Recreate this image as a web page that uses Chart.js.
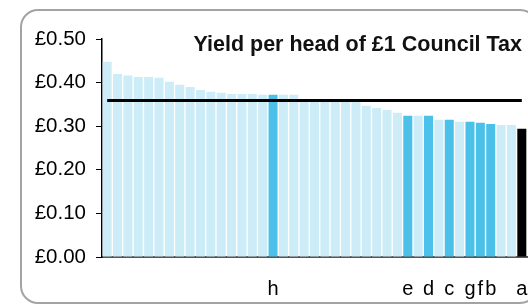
<!DOCTYPE html>
<html>
<head>
<meta charset="utf-8">
<script src="https://cdn.jsdelivr.net/npm/chart.js@4/dist/chart.umd.min.js"></script>
<style>
  html, body { margin: 0; padding: 0; background: #fff; }
  #wrap { position: relative; width: 528px; height: 305px; overflow: hidden; }
  #frame { position: absolute; left: 20px; top: 9px; width: 518px; height: 295px;
           border: 2px solid #a3a3a3; border-radius: 18px; box-sizing: border-box; }
  #title { position: absolute; right: 6px; top: 32px; font: bold 21.5px "Liberation Sans", Arial, sans-serif;
           color: #111; white-space: nowrap; }
  canvas { position: absolute; left: 0; top: 0; }
</style>
</head>
<body>
<div id="wrap">
  <div id="frame"></div>
  <canvas id="c" width="528" height="305"></canvas>
  <div id="title">Yield per head of £1 Council Tax</div>
</div>
<script>
// Category labels (only the highlighted councils are labelled)
const categories = ['', '', '', '', '', '', '', '', '', '', '', '', '', '', '', '', 'h', '', '', '', '',
  '', '', '', '', '', '', '', '', 'e', '', 'd', '', 'c', '', 'g', 'f', 'b', '', '', 'a'];
// Yield per head (£) for each council
const yieldValues = [0.448, 0.420, 0.416, 0.413, 0.413, 0.411, 0.402, 0.395, 0.390, 0.383,
  0.379, 0.377, 0.374, 0.374, 0.374, 0.372, 0.372, 0.372, 0.372, 0.361,
  0.360, 0.360, 0.359, 0.359, 0.358, 0.347, 0.342, 0.337, 0.331, 0.324,
  0.324, 0.324, 0.315, 0.315, 0.310, 0.310, 0.308, 0.305, 0.303, 0.303, 0.294];
// Bar highlight group: 0 = other, 1 = highlighted, 2 = selected
const highlight = [0, 0, 0, 0, 0, 0, 0, 0, 0, 0, 0, 0, 0, 0, 0, 0, 1, 0, 0, 0, 0,
  0, 0, 0, 0, 0, 0, 0, 0, 1, 0, 1, 0, 1, 0, 1, 1, 1, 0, 0, 2];
// Average yield
const averageYield = 0.359;
const yTicks = [0, 0.1, 0.2, 0.3, 0.4, 0.5];

const groupColors = ['#ccecf8', '#4bc1ea', '#000000'];
const FONT = '"Liberation Sans", Arial, sans-serif';

new Chart(document.getElementById('c'), {
  type: 'bar',
  data: {
    labels: categories,
    datasets: [
      {
        type: 'line',
        data: categories.map(() => averageYield),
        borderColor: '#000',
        borderWidth: 3,
        pointRadius: 0,
        fill: false,
        order: 0
      },
      {
        data: yieldValues,
        backgroundColor: highlight.map(h => groupColors[h]),
        borderWidth: 0,
        categoryPercentage: 1,
        barPercentage: 0.87,
        order: 1
      }
    ]
  },
  options: {
    responsive: false,
    animation: false,
    devicePixelRatio: 1,
    layout: { padding: { top: 39, right: 1, left: 0, bottom: 0 } },
    plugins: { legend: { display: false }, title: { display: false }, tooltip: { enabled: false } },
    scales: {
      x: {
        grid: { display: false, drawTicks: false },
        border: { display: true, color: '#555', width: 2 },
        ticks: { autoSkip: false, maxRotation: 0, minRotation: 0, padding: 20,
                 color: '#000', font: { family: FONT, size: 20 } },
        afterFit: (s) => { s.height = 48; s.paddingLeft = 0; s.paddingRight = 0; }
      },
      y: {
        min: 0, max: 0.5,
        afterBuildTicks: (s) => { s.ticks = yTicks.map(v => ({ value: v })); },
        grid: { display: true, drawOnChartArea: false, drawTicks: true, tickLength: 6, color: '#000', lineWidth: 1 },
        border: { display: true, color: '#000', width: 1.5 },
        ticks: { padding: 10, color: '#000', font: { family: FONT, size: 20.5 },
                 callback: (v) => '£' + Number(v).toFixed(2) },
        afterFit: (s) => { s.width = 102; s.paddingTop = 0; s.paddingBottom = 0; }
      }
    }
  }
});
</script>
</body>
</html>
